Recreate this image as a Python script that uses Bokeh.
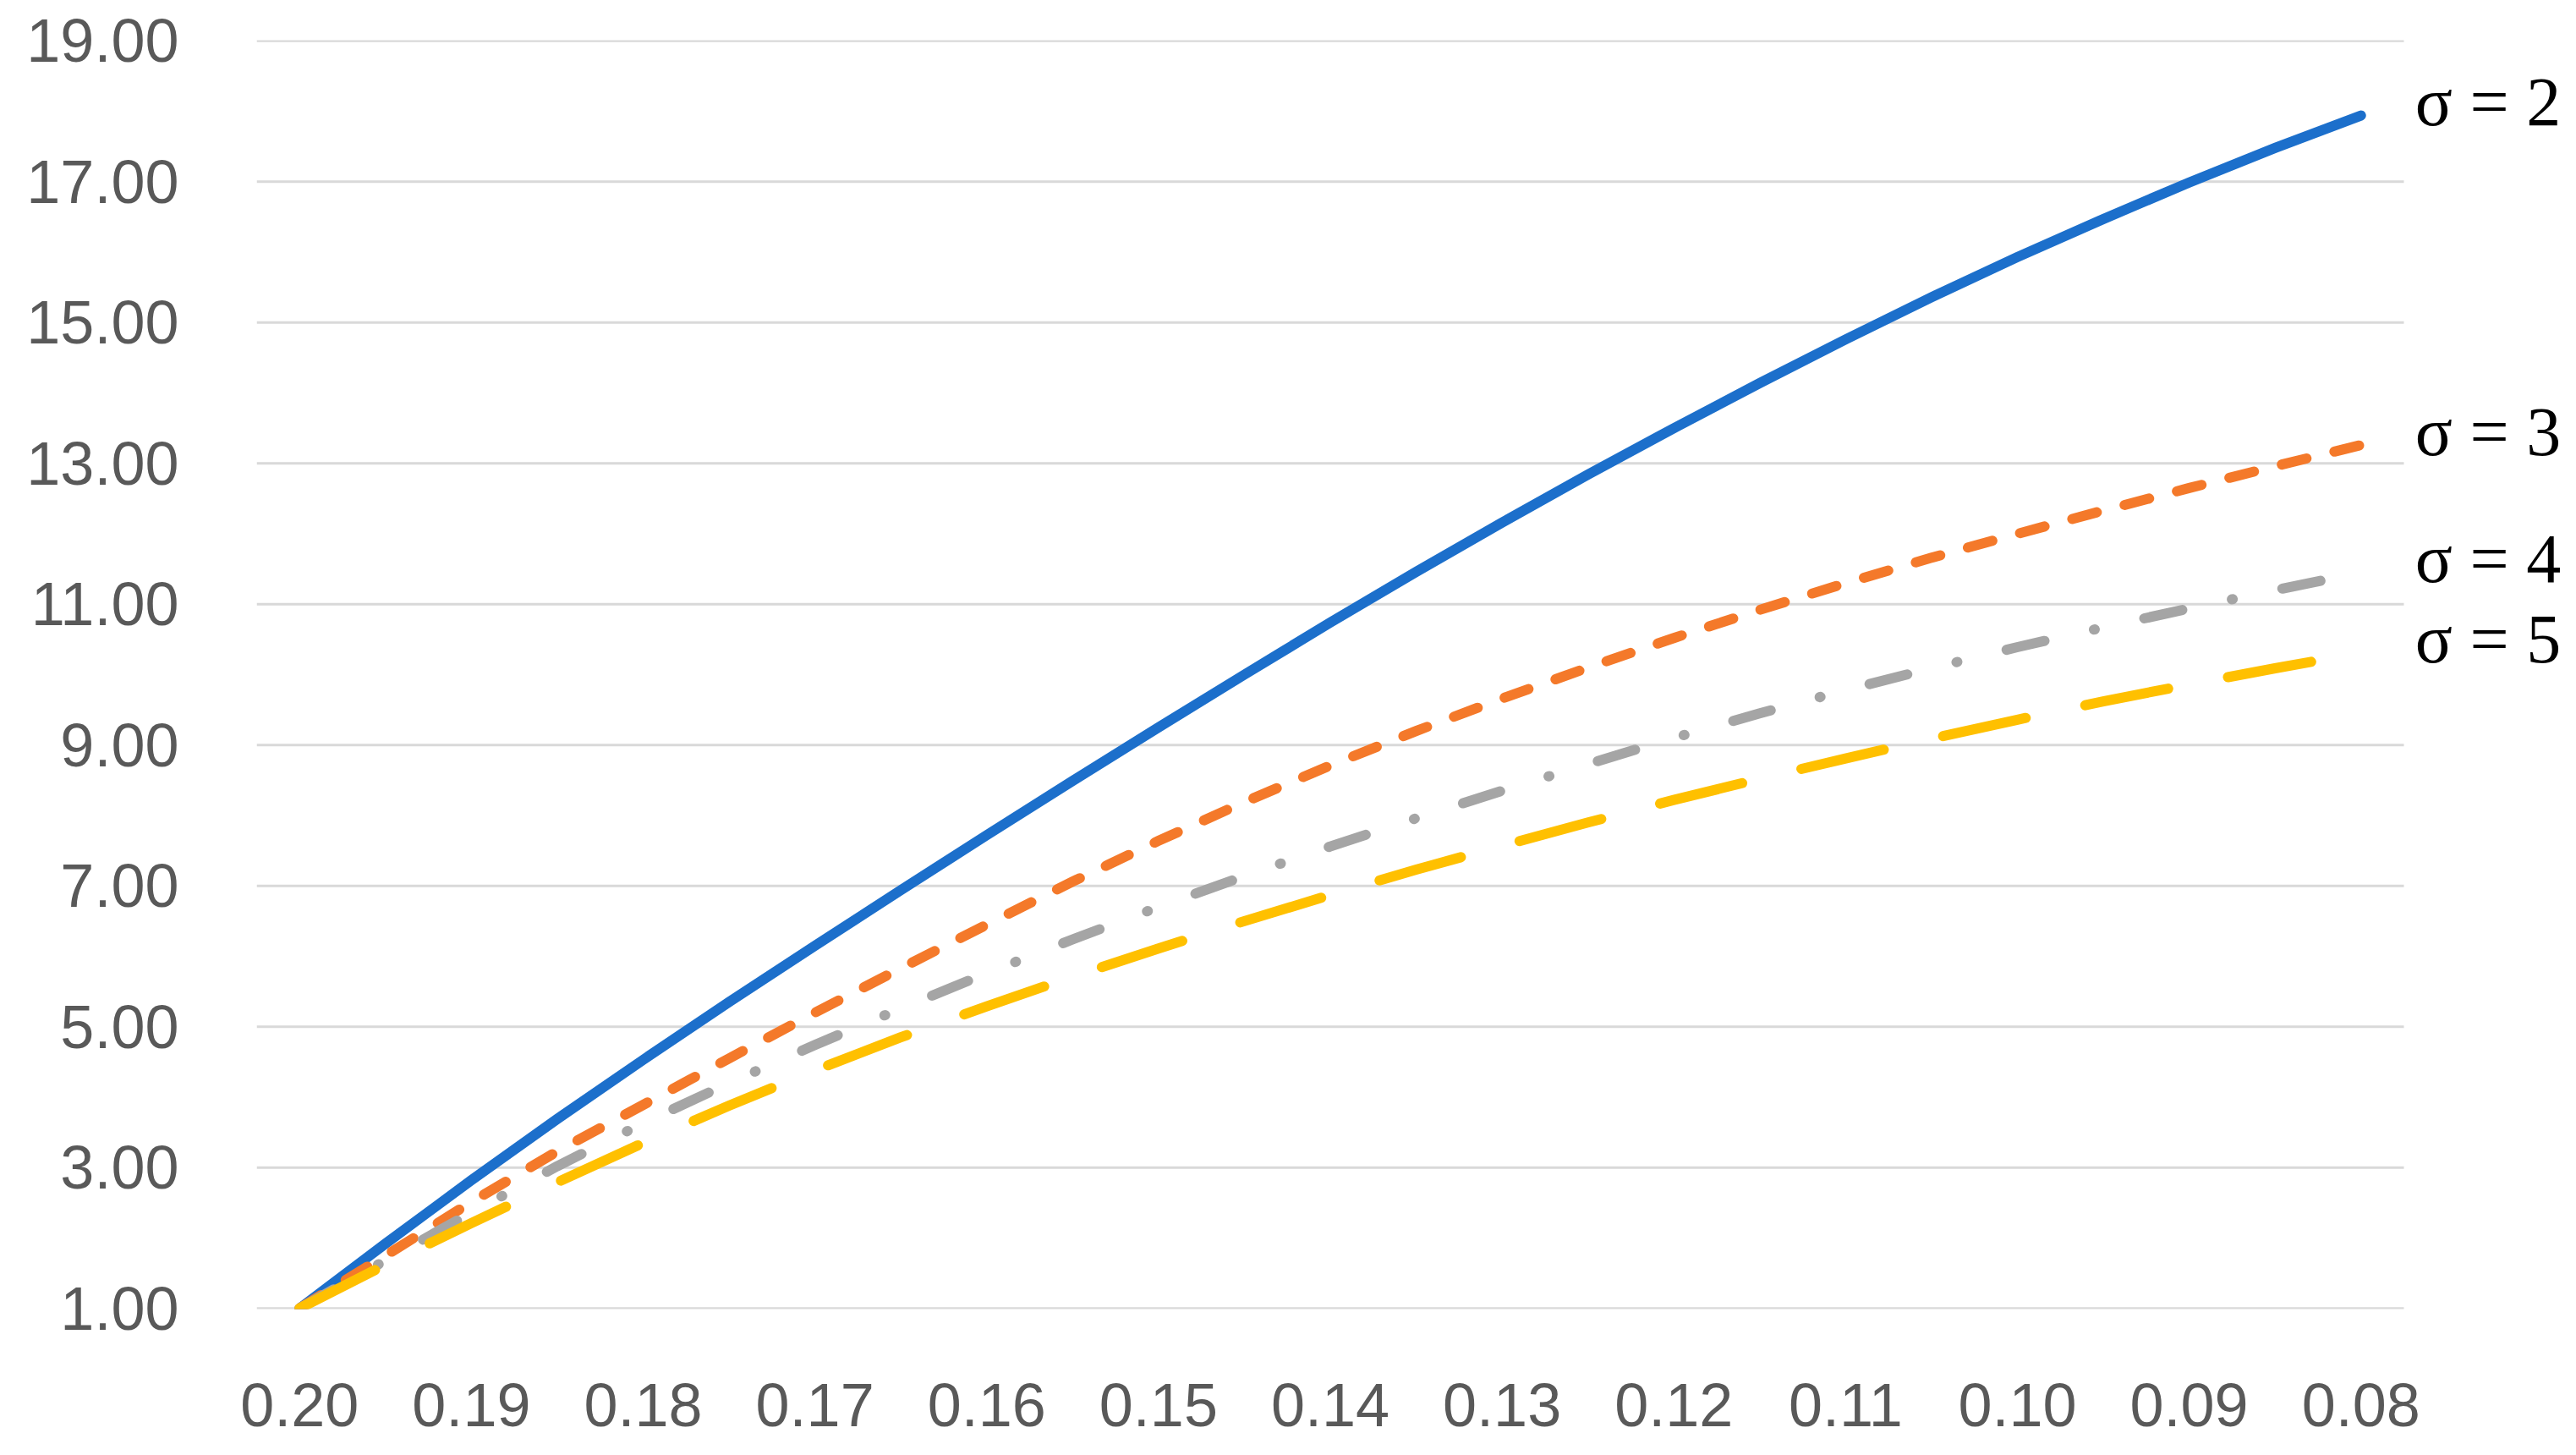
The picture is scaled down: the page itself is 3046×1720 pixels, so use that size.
from bokeh.plotting import figure
from bokeh.models import Range1d, FixedTicker, NumeralTickFormatter, ColumnDataSource
from bokeh.core.properties import value
from bokeh.embed import file_html
from bokeh.resources import INLINE

# thresholds (x categories, 0.200 -> 0.080 in the order shown)
thresholds = [0.200, 0.195, 0.190, 0.185, 0.180, 0.175, 0.170, 0.165, 0.160,
              0.155, 0.150, 0.145, 0.140, 0.135, 0.130, 0.125, 0.120, 0.115,
              0.110, 0.105, 0.100, 0.095, 0.090, 0.085, 0.080]
x_tick_values = [0.20, 0.19, 0.18, 0.17, 0.16, 0.15, 0.14, 0.13, 0.12, 0.11, 0.10, 0.09, 0.08]
y_tick_values = [1, 3, 5, 7, 9, 11, 13, 15, 17, 19]

sigma2 = [1.00, 1.92, 2.82, 3.69, 4.53, 5.35, 6.15, 6.94, 7.72, 8.49, 9.25, 10.00, 10.74,
          11.46, 12.16, 12.84, 13.50, 14.14, 14.76, 15.36, 15.93, 16.47, 16.99, 17.48, 17.94]
sigma3 = [1.00, 1.75, 2.51, 3.23, 3.89, 4.55, 5.20, 5.83, 6.45, 7.06, 7.64, 8.19, 8.71,
          9.20, 9.66, 10.10, 10.52, 10.92, 11.30, 11.66, 12.00, 12.33, 12.65, 12.96, 13.26]
sigma4 = [1.00, 1.68, 2.36, 3.02, 3.63, 4.20, 4.74, 5.26, 5.76, 6.24, 6.70, 7.14, 7.56,
          7.96, 8.35, 8.73, 9.10, 9.45, 9.78, 10.09, 10.39, 10.67, 10.94, 11.20, 11.45]
sigma5 = [1.00, 1.62, 2.21, 2.79, 3.35, 3.88, 4.38, 4.85, 5.29, 5.71, 6.11, 6.50, 6.87,
          7.23, 7.57, 7.90, 8.22, 8.52, 8.81, 9.09, 9.36, 9.62, 9.86, 10.09, 10.31]
series_labels = ["σ = 2", "σ = 3", "σ = 4", "σ = 5"]

colors = ["#1C6FCB", "#F4792A", "#A5A5A5", "#FFC000"]
dashes = ["solid", "30 34", "46 60 1 60", "100 72"]

# plot-area edges: half a category beyond first/last point (category axis look)
half_step = (thresholds[0] - thresholds[1]) / 2
x_left = thresholds[0] + half_step
x_right = thresholds[-1] - half_step
plot_px = 2539
extra_px = 188  # room on the right for the series labels
x_end = x_right - (x_left - x_right) * extra_px / plot_px

p = figure(frame_width=plot_px + extra_px, frame_height=1500,
           min_border_left=303, min_border_right=0,
           min_border_top=47, min_border_bottom=153,
           x_range=Range1d(x_left, x_end), y_range=Range1d(0.99, 19.01),
           output_backend="svg", toolbar_location=None)
p.outline_line_color = None
p.background_fill_color = "white"
p.border_fill_color = "white"
p.grid.visible = False

# horizontal gridlines limited to the plot area
grid_src = ColumnDataSource(dict(x0=[x_left] * len(y_tick_values),
                                 x1=[x_right] * len(y_tick_values),
                                 y=y_tick_values))
p.segment(x0="x0", y0="y", x1="x1", y1="y", source=grid_src,
          line_color="#D9D9D9", line_width=3)

for ax in (p.xaxis[0], p.yaxis[0]):
    ax.axis_line_color = None
    ax.major_tick_line_color = None
    ax.minor_tick_line_color = None
    ax.major_label_text_font = "Liberation Sans"
    ax.major_label_text_font_size = "72px"
    ax.major_label_text_color = "#595959"
    ax.formatter = NumeralTickFormatter(format="0.00")

p.xaxis[0].ticker = FixedTicker(ticks=x_tick_values)
p.yaxis[0].ticker = FixedTicker(ticks=y_tick_values)
p.xaxis[0].major_label_standoff = 82
p.yaxis[0].major_label_standoff = 86

all_series = [sigma2, sigma3, sigma4, sigma5]
for ys, c, d in zip(all_series, colors, dashes):
    src = ColumnDataSource(dict(x=thresholds, y=ys))
    p.line("x", "y", source=src, line_color=c, line_width=12,
           line_dash=d, line_cap="round", line_join="round")

lab_src = ColumnDataSource(dict(x=[thresholds[-1]] * len(all_series),
                                y=[s[-1] for s in all_series],
                                text=series_labels))
p.text(x="x", y="y", text="text", source=lab_src, x_offset=64, y_offset=-16,
       text_font=value("Liberation Serif"), text_font_size=value("82px"),
       text_color="black", text_baseline="middle", text_align="left")

open("out.html", "w").write(file_html(p, INLINE))
